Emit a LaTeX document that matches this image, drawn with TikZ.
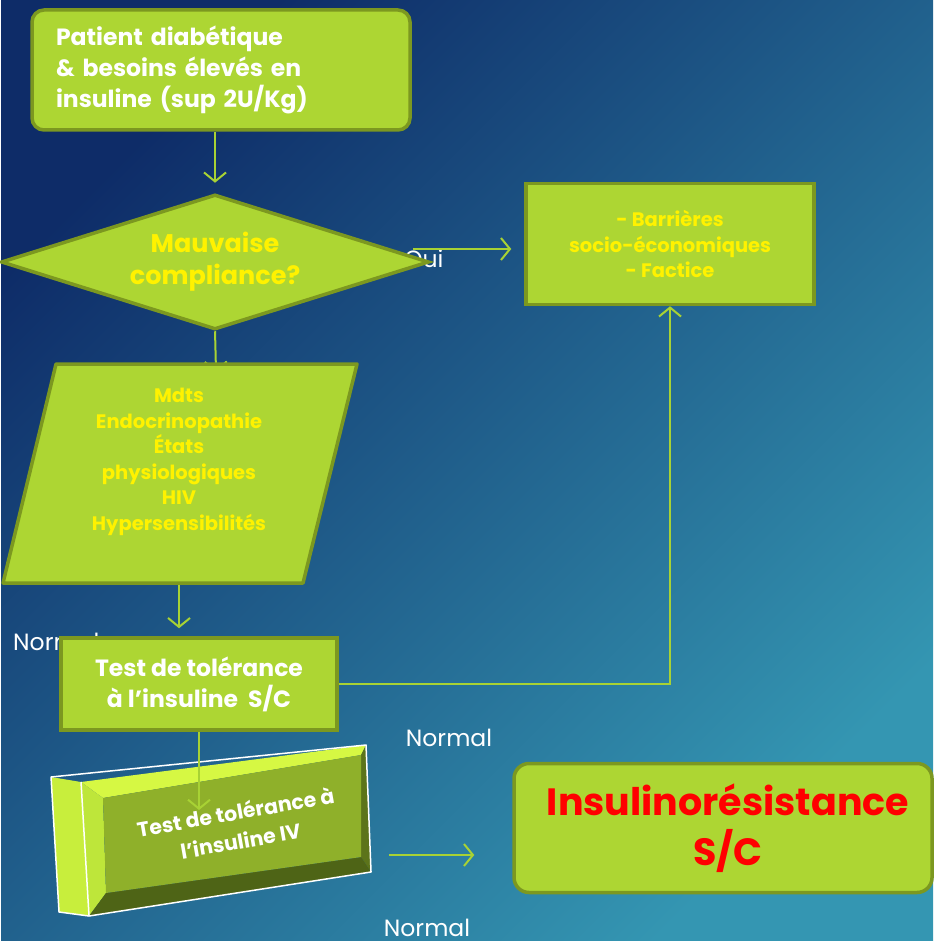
\documentclass[tikz,border=0pt]{standalone}
\usepackage{fontspec}
\setmainfont{Poppins}
\usetikzlibrary{positioning}
\usetikzlibrary{arrows.meta}
\usetikzlibrary{shapes.geometric}
\definecolor{boxgreen}{RGB}{173,214,51}
\definecolor{boxedge}{RGB}{124,152,32}
\definecolor{linkgreen}{RGB}{168,210,52}
\definecolor{bgtop}{RGB}{14,44,104}
\definecolor{bgmid}{RGB}{32,96,146}
\definecolor{bgbot}{RGB}{52,150,178}
\definecolor{keyside}{RGB}{200,238,60}
\definecolor{keytop}{RGB}{214,248,67}
\definecolor{keyleft}{RGB}{190,230,58}
\definecolor{keyright}{RGB}{92,116,26}
\definecolor{keybottom}{RGB}{78,100,22}
\definecolor{keyface}{RGB}{143,176,42}

\begin{document}
\begin{tikzpicture}[x=1pt,y=-1pt,
	box/.style={draw=boxedge,fill=boxgreen,line width=3.5pt,rectangle,align=center,inner sep=0pt},
	choice/.style={box,shape=diamond,aspect=3.17},
	flow/.style={draw=linkgreen,line width=2pt,-{Straight Barb[length=9pt,width=22pt,line width=2pt]}},
	lbl/.style={text=white,font=\fontsize{23.5}{28}\selectfont,inner sep=0pt},
	whitetxt/.style={text=white,font=\bfseries\fontsize{23.5}{31}\selectfont},
	yellowtxt/.style={text=yellow,font=\bfseries\fontsize{19.5}{25.5}\selectfont}]
	\shade[top color=bgtop,middle color=bgmid,bottom color=bgbot,shading angle=45] (0,0) rectangle (932,941);

	\node[lbl,anchor=west] (oui) at (403,259) {Oui};
	\node[lbl,anchor=west] (nor) at (12,642) {Normal};
	\node[lbl] (normalmid) at (448,738) {Normal};
	\node[lbl] (normalbot) at (426,928) {Normal};

	\node[box,rounded corners=12pt,minimum width=378pt,minimum height=120pt,text width=330pt,align=left,whitetxt] (patient) at (220,70) {Patient diabétique\\\& besoins élevés en\\insuline (sup 2U/Kg)};
	\node[box,minimum width=288pt,minimum height=121pt,yellowtxt] (barriers) at (669,244) {- Barrières\\socio-économiques\\- Factice};
	\coordinate (ouistart) at (412,249);
	\draw[flow,shorten >=13pt] (ouistart) -- (barriers.west |- ouistart);
	\node[choice,minimum width=428pt,minimum height=135pt,text=yellow,font=\bfseries\fontsize{25.5}{32}\selectfont] (compliance) at (214,262) {Mauvaise\\compliance?};
	\draw[flow,shorten >=10pt] (compliance.north |- patient.south) -- (compliance.north);

	\coordinate (paratop) at (215,372);
	\draw[flow] (compliance.south) -- (paratop);
	\filldraw[draw=boxedge,fill=boxgreen,line width=3.5pt,line join=round] (55,364) -- (356,364) -- (302,583) -- (2,583) -- cycle;
	\node[yellowtxt,align=center] (causes) at (178,462) {Mdts\\Endocrinopathie\\États\\physiologiques\\HIV\\Hypersensibilités};

	\node[box,minimum width=276pt,minimum height=92pt,whitetxt] (sctest) at (198,684) {Test de tolérance\\à l’insuline~~S/C};
	\coordinate (parabot) at (178,585);
	\draw[flow,shorten >=8pt] (parabot) -- (parabot |- sctest.north);
	\draw[flow] (sctest.east) -- (barriers.south |- sctest.east) -- (barriers.south);

	\fill[keyside] (50,777) -- (80,782) -- (88,916) -- (58,912) -- cycle;
	\fill[keytop] (80,782) -- (365,745) -- (360,755) -- (102,798) -- cycle;
	\fill[keyleft] (80,782) -- (102,798) -- (105,893) -- (88,916) -- cycle;
	\fill[keyright] (365,745) -- (370,872) -- (360,857) -- (360,755) -- cycle;
	\fill[keybottom] (88,916) -- (105,893) -- (360,857) -- (370,872) -- cycle;
	\fill[keyface] (102,798) -- (360,755) -- (360,857) -- (105,893) -- cycle;
	\draw[white,line width=1.5pt,line join=round] (50,777) -- (365,745) -- (370,872) -- (88,916) -- (58,912) -- cycle;
	\draw[white,line width=1.5pt] (80,782) -- (88,916);
	\node[text=white,font=\bfseries\fontsize{20.5}{29}\selectfont,align=center,rotate=10] (ivtest) at (237,826) {Test de tolérance à\\l’insuline IV};
	\coordinate (ivtip) at (198,810);
	\draw[flow] (sctest.south) -- (ivtip);

	\node[box,rounded corners=15pt,minimum width=418pt,minimum height=129pt,text=red,font=\bfseries\fontsize{38}{50}\selectfont] (final) at (722,828) {\hspace*{10pt}Insulinorésistance\\\hspace*{10pt}S/C};
	\coordinate (ivout) at (388,855);
	\draw[flow,shorten >=38pt] (ivout) -- (final.west |- ivout);
\end{tikzpicture}
\end{document}
